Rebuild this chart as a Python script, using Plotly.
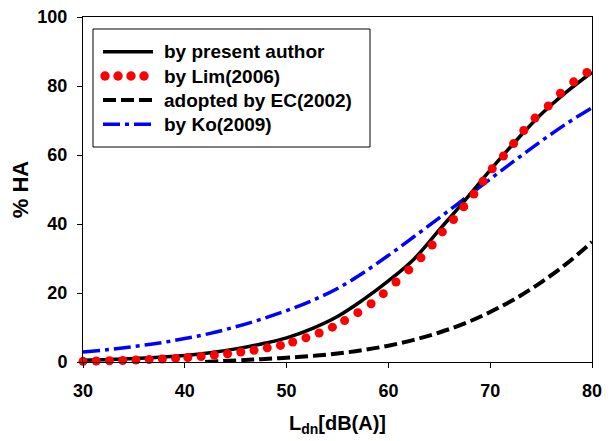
import plotly.graph_objects as go

# ---- data ----
x_author = [30, 32.5, 35, 37.5, 40, 42.5, 45, 47.5, 50, 52.5, 55, 57.5, 60,
            62.5, 65, 67.5, 70, 72.5, 75, 77.5, 80]
y_author = [0.5, 0.7, 1.0, 1.4, 1.9, 2.7, 3.8, 5.2, 7.0, 9.7, 13.2, 18.0, 23.5,
            29.8, 38.3, 46.8, 55.6, 64.0, 71.8, 78.3, 84.0]

x_lim = [30.0, 31.3, 32.6, 33.9, 35.2, 36.5, 37.8, 39.1, 40.3, 41.6, 42.9, 44.2,
         45.5, 46.8, 48.1, 49.4, 50.6, 51.9, 53.2, 54.5, 55.7, 57.0, 58.3, 59.5,
         60.75, 62.0, 63.2, 64.3, 65.3, 66.4, 67.4, 68.4, 69.3, 70.2, 71.3, 72.3,
         73.3, 74.4, 75.7, 76.9, 78.2, 79.5]
y_lim = [0.2, 0.3, 0.35, 0.45, 0.55, 0.7, 0.85, 1.05, 1.3, 1.6, 2.0, 2.4,
         2.9, 3.4, 4.1, 4.8, 5.8, 7.0, 8.4, 10.1, 12.0, 14.3, 16.9, 19.8,
         23.2, 26.7, 30.2, 33.9, 37.7, 41.3, 45.0, 48.7, 52.4, 56.0, 59.7, 63.3,
         67.1, 70.7, 74.2, 77.9, 81.2, 83.9]

x_ec = [42, 45, 47.5, 50, 52.5, 55, 57.5, 60, 62.5, 65, 67.5, 70, 72.5, 75, 77.5, 80]
y_ec = [0.0, 0.46, 0.82, 1.22, 1.75, 2.47, 3.44, 4.73, 6.41, 8.55, 11.2, 14.5,
        18.4, 23.1, 28.5, 34.8]

x_ko = [30, 32.5, 35, 37.5, 40, 42.5, 45, 47.5, 50, 52.5, 55, 57.5, 60,
        62.5, 65, 67.5, 70, 72.5, 75, 77.5, 80]
y_ko = [2.9, 3.6, 4.5, 5.5, 6.8, 8.3, 10.2, 12.4, 14.9, 17.8, 21.3, 25.8, 30.9,
        36.3, 41.8, 47.4, 53.0, 58.6, 64.0, 69.1, 73.7]

x_ticks = [30, 40, 50, 60, 70, 80]
y_ticks = [0, 20, 40, 60, 80, 100]

series_names = ["by present author", "by Lim(2006)", "adopted by EC(2002)", "by Ko(2009)"]

FONT = "Liberation Sans, Arial, sans-serif"

fig = go.Figure()
fig.add_trace(go.Scatter(x=x_ec, y=y_ec, mode="lines", line_shape="spline",
                         line=dict(color="black", width=4, dash="13px,5px"),
                         name=series_names[2]))
fig.add_trace(go.Scatter(x=x_ko, y=y_ko, mode="lines", line_shape="spline",
                         line=dict(color="#0000FF", width=3.5, dash="17px,5px,4px,5px"),
                         name=series_names[3]))
fig.add_trace(go.Scatter(x=x_author, y=y_author, mode="lines", line_shape="spline",
                         line=dict(color="black", width=3.5),
                         name=series_names[0]))
fig.add_trace(go.Scatter(x=x_lim, y=y_lim, mode="markers", cliponaxis=False,
                         marker=dict(color="#FF0000", size=9, line=dict(width=0)),
                         name=series_names[1]))

# ---- layout geometry (page body has an 8px margin, so shift by 8) ----
OFF = 8
W, H = 616, 441
L, R, T, B = 83 - OFF, 592 - OFF, 17 - OFF, 362 - OFF
PW, PH = R - L, B - T
def px(x):
    return (x - OFF - L) / PW
def py(y):
    return (B - (y - OFF)) / PH

shapes = []
shapes.append(dict(type="rect", xref="paper", yref="paper",
                   x0=px(93), x1=px(370), y0=py(147), y1=py(29),
                   line=dict(color="black", width=1), fillcolor="white", layer="above"))
rows = [51.7, 76, 100, 124.3]
shapes.append(dict(type="line", xref="paper", yref="paper", x0=px(103), x1=px(153),
                   y0=py(rows[0]), y1=py(rows[0]), line=dict(color="black", width=3.5), layer="above"))
for cx in [105, 118, 131, 144]:
    shapes.append(dict(type="circle", xref="paper", yref="paper",
                       xsizemode="pixel", ysizemode="pixel",
                       xanchor=px(cx), yanchor=py(rows[1]),
                       x0=-4.7, x1=4.7, y0=-4.7, y1=4.7,
                       fillcolor="#FF0000", line=dict(width=0), layer="above"))
shapes.append(dict(type="line", xref="paper", yref="paper", x0=px(103), x1=px(153),
                   y0=py(rows[2]), y1=py(rows[2]),
                   line=dict(color="black", width=4, dash="13px,5px"), layer="above"))
shapes.append(dict(type="line", xref="paper", yref="paper", x0=px(103), x1=px(153),
                   y0=py(rows[3]), y1=py(rows[3]),
                   line=dict(color="#0000FF", width=3.5, dash="17px,5px,4px,5px"), layer="above"))

annotations = []
for name, ry in zip(series_names, rows):
    annotations.append(dict(xref="paper", yref="paper", x=px(162), y=py(ry),
                            xanchor="left", yanchor="middle", showarrow=False,
                            text=name, font=dict(family=FONT, size=19, color="black", weight="bold")))

fig.update_layout(
    width=W, height=H,
    margin=dict(l=L, r=W - R, t=T, b=H - B, autoexpand=False),
    paper_bgcolor="white", plot_bgcolor="white",
    showlegend=False,
    font=dict(family=FONT, color="black", weight="bold"),
    shapes=shapes, annotations=annotations,
)
fig.update_xaxes(range=[30, 80], tickvals=x_ticks, ticks="outside", ticklen=5,
                 tickcolor="black", tickwidth=1, automargin=False,
                 showline=True, linecolor="black", linewidth=1, mirror=True,
                 showgrid=False, zeroline=False, ticklabeloverflow="allow",
                 tickfont=dict(family=FONT, size=18, color="black", weight="bold"),
                 ticklabelstandoff=7,
                 title=dict(text="L<sub>dn</sub>[dB(A)]", standoff=16,
                            font=dict(family=FONT, size=20, color="black", weight="bold")))
fig.update_yaxes(range=[0, 100], tickvals=y_ticks, ticks="outside", ticklen=5,
                 tickcolor="black", tickwidth=1, automargin=False,
                 showline=True, linecolor="black", linewidth=1, mirror=True,
                 showgrid=False, zeroline=False, ticklabeloverflow="allow",
                 tickfont=dict(family=FONT, size=18, color="black", weight="bold"),
                 ticklabelstandoff=6,
                 title=dict(text="% HA", standoff=2,
                            font=dict(family=FONT, size=22, color="black", weight="bold")))

fig.write_html("out.html")
